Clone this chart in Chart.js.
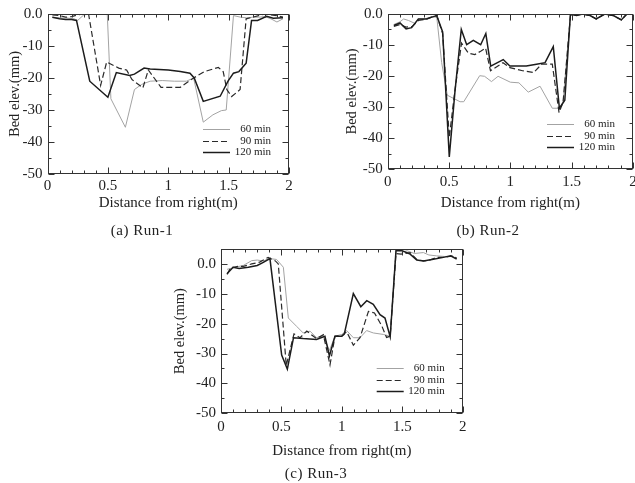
<!DOCTYPE html>
<html><head><meta charset="utf-8">
<script src="https://cdn.jsdelivr.net/npm/chart.js@4.4.1/dist/chart.umd.min.js"></script>
<style>
html,body{margin:0;padding:0;background:#fff;overflow:hidden;width:635px;height:483px;position:relative;}
.pane{position:absolute;}
.cap{position:absolute;font-family:'Liberation Serif','Times New Roman',serif;font-size:15px;letter-spacing:0.5px;color:#222;white-space:nowrap;transform:translate(-50%,-50%);}
</style></head><body>
<div class="pane" style="left:0;top:0"><canvas id="cA" width="300" height="215"></canvas></div>
<div class="pane" style="left:320px;top:0"><canvas id="cB" width="330" height="215"></canvas></div>
<div class="pane" style="left:170px;top:235px"><canvas id="cC" width="310" height="230"></canvas></div>
<div class="cap" style="left:142px;top:230px">(a) Run-1</div>
<div class="cap" style="left:488px;top:230px">(b) Run-2</div>
<div class="cap" style="left:316px;top:473px">(c) Run-3</div>
<script>
// ---- labels ----
const seriesLabels = ['60 min', '90 min', '120 min'];
const xTitle = 'Distance from right(m)';
const yTitle = 'Bed elev.(mm)';
const panelCaptions = ['(a) Run-1', '(b) Run-2', '(c) Run-3'];
const xTickValues = [0, 0.5, 1, 1.5, 2];
const xTickLabels = ['0', '0.5', '1', '1.5', '2'];
const yTickValues = [0, -10, -20, -30, -40, -50];
const yTickLabels = ['0.0', '-10', '-20', '-30', '-40', '-50'];

// ---- Run-1 ----
const a60X = [0.04, 0.10, 0.17, 0.22, 0.25, 0.30, 0.35, 0.40, 0.45, 0.495, 0.525, 0.645, 0.72, 0.78, 0.85, 0.95, 1.05, 1.15, 1.21, 1.29, 1.37, 1.44, 1.48, 1.54, 1.60, 1.65, 1.70, 1.75, 1.80, 1.85, 1.90, 1.95];
const a60Y = [-1.0, -1.2, -1.3, -1.5, -2.0, -0.3, 0, 0, 0, 0, -26.5, -35.4, -23.6, -22.0, -21.0, -20.8, -21.0, -21.0, -20.0, -33.8, -31.5, -30.2, -30.0, -0.5, -1.0, -1.2, -1.0, -1.0, -0.8, -1.5, -2.5, -1.5];
const a90X = [0.04, 0.10, 0.15, 0.20, 0.25, 0.30, 0.34, 0.44, 0.49, 0.59, 0.655, 0.70, 0.79, 0.835, 0.94, 1.10, 1.21, 1.30, 1.415, 1.455, 1.485, 1.525, 1.595, 1.645, 1.70, 1.75, 1.80, 1.85, 1.90, 1.95];
const a90Y = [-0.3, -0.5, -1.0, -0.8, -0.3, 0, 0, -22.3, -15.0, -16.9, -17.5, -20.5, -23.1, -17.5, -22.9, -22.9, -20.0, -18.0, -16.7, -18.0, -23.6, -25.8, -23.6, -1.5, -1.0, -0.5, 0, -0.3, -0.5, -1.0];
const a120X = [0.04, 0.10, 0.15, 0.20, 0.24, 0.35, 0.50, 0.57, 0.68, 0.72, 0.80, 0.85, 1.00, 1.10, 1.18, 1.215, 1.29, 1.43, 1.495, 1.54, 1.585, 1.645, 1.69, 1.74, 1.815, 1.87, 1.95];
const a120Y = [-1.0, -1.5, -1.7, -1.7, -2.0, -21.0, -26.0, -18.3, -19.2, -18.8, -16.9, -17.2, -17.5, -18.0, -18.5, -20.0, -27.3, -25.7, -21.0, -18.5, -18.0, -15.4, -2.0, -2.0, -0.7, -1.3, -1.2];

// ---- Run-2 ----
const b60X = [0.05, 0.10, 0.13, 0.17, 0.22, 0.25, 0.30, 0.35, 0.40, 0.44, 0.486, 0.59, 0.62, 0.75, 0.79, 0.846, 0.90, 1.00, 1.07, 1.146, 1.242, 1.342, 1.40, 1.43, 1.49, 1.54, 1.59, 1.65, 1.70, 1.77, 1.84, 1.905, 1.95];
const b60Y = [-3.4, -2.5, -1.6, -2.1, -3.0, -1.6, -1.6, -1.0, -1.0, -15.7, -26.2, -28.3, -28.3, -19.9, -20.1, -21.8, -20.1, -22.0, -22.2, -25.2, -23.3, -30.4, -30.4, -28.4, -0.5, -0.5, 0, -0.5, -1.6, 0, -0.5, -1.9, 0];
const b90X = [0.05, 0.10, 0.15, 0.20, 0.25, 0.32, 0.36, 0.40, 0.448, 0.502, 0.548, 0.602, 0.657, 0.71, 0.758, 0.798, 0.838, 0.94, 0.996, 1.10, 1.19, 1.255, 1.342, 1.397, 1.43, 1.49, 1.54, 1.59, 1.65, 1.70, 1.77, 1.84, 1.905, 1.95];
const b90Y = [-4.0, -3.4, -4.2, -4.0, -2.1, -1.6, -1.0, -0.5, -6.3, -39.8, -24.6, -9.4, -12.6, -13.1, -12.0, -11.0, -18.3, -15.7, -17.3, -18.3, -18.9, -16.2, -16.2, -31.8, -28.4, -0.5, -0.3, 0, -0.5, -1.6, 0, -0.5, -1.9, 0];
const b120X = [0.05, 0.10, 0.15, 0.195, 0.25, 0.317, 0.358, 0.40, 0.448, 0.502, 0.548, 0.60, 0.644, 0.698, 0.758, 0.80, 0.84, 0.942, 0.996, 1.13, 1.213, 1.283, 1.35, 1.40, 1.444, 1.49, 1.54, 1.59, 1.65, 1.70, 1.77, 1.84, 1.905, 1.95];
const b120Y = [-3.7, -2.9, -4.8, -4.4, -1.6, -1.6, -1.0, -0.5, -5.8, -46.1, -25.2, -5.0, -9.9, -8.5, -9.9, -6.3, -16.8, -14.7, -16.8, -16.8, -16.2, -15.7, -10.5, -30.4, -27.8, 0, -0.5, 0, -0.5, -1.6, 0, -0.5, -1.9, 0];

// ---- Run-3 ----
const c60X = [0.05, 0.12, 0.185, 0.254, 0.30, 0.35, 0.40, 0.46, 0.516, 0.557, 0.626, 0.68, 0.737, 0.79, 0.847, 0.897, 0.943, 1.00, 1.04, 1.095, 1.15, 1.205, 1.26, 1.343, 1.40, 1.448, 1.50, 1.54, 1.60, 1.675, 1.72, 1.785, 1.85, 1.92, 1.95];
const c60Y = [-1.8, -1.1, -0.5, 1.1, 1.3, 1.0, 1.8, 1.5, -1.1, -18.1, -20.9, -23.1, -22.5, -24.7, -24.0, -29.0, -24.2, -23.6, -22.3, -24.7, -24.7, -22.3, -23.1, -23.6, -24.2, 4.4, 4.0, 4.4, 3.5, 3.8, 3.0, 2.7, 2.5, 2.5, 1.8];
const c90X = [0.05, 0.08, 0.14, 0.185, 0.254, 0.32, 0.39, 0.45, 0.474, 0.54, 0.604, 0.654, 0.71, 0.79, 0.847, 0.902, 0.943, 1.00, 1.04, 1.095, 1.15, 1.22, 1.27, 1.33, 1.37, 1.40, 1.448, 1.49, 1.565, 1.62, 1.675, 1.72, 1.785, 1.85, 1.92, 1.95];
const c90Y = [-3.5, -1.3, -0.8, -0.8, 0.0, 0.6, 2.2, 1.0, 0.0, -34.0, -23.4, -24.7, -22.5, -25.0, -23.7, -33.8, -24.2, -24.0, -22.7, -27.2, -24.7, -15.9, -16.4, -20.7, -24.6, -24.2, 3.5, 3.3, 3.8, 1.5, 1.0, 1.2, 2.2, 2.2, 2.7, 2.0];
const c120X = [0.05, 0.10, 0.15, 0.226, 0.30, 0.35, 0.405, 0.502, 0.549, 0.60, 0.68, 0.79, 0.86, 0.897, 0.943, 1.00, 1.02, 1.095, 1.157, 1.206, 1.26, 1.316, 1.357, 1.40, 1.448, 1.49, 1.565, 1.62, 1.675, 1.757, 1.84, 1.90, 1.95];
const c120Y = [-3.3, -1.1, -1.5, -1.1, -0.5, 0.5, 1.8, -30.5, -35.2, -24.7, -25.0, -25.3, -24.2, -30.8, -24.2, -24.2, -23.5, -9.9, -14.3, -12.3, -13.5, -17.0, -18.1, -24.4, 4.4, 4.6, 3.3, 1.3, 1.0, 1.6, 2.2, 2.7, 1.6];

// ---- styles ----
const FONT = "'Liberation Serif','Times New Roman',serif";
const INK = '#222';
const lineStyles = [
  {color: '#a3a3a3', width: 1.0, dash: []},
  {color: '#2a2a2a', width: 1.2, dash: [6, 3]},
  {color: '#1c1c1c', width: 1.5, dash: []}
];

const frameTicks = {
  id: 'frameTicks',
  afterDatasetsDraw(chart) {
    const {ctx, chartArea: a, scales: {x, y}} = chart;
    ctx.save();
    ctx.strokeStyle = '#333';
    ctx.lineWidth = 1;
    const L = Math.round(a.left) + 0.5, R = Math.round(a.right) - 0.5;
    const T = Math.round(a.top) + 0.5, B = Math.round(a.bottom) - 0.5;
    ctx.strokeRect(L, T, R - L, B - T);
    ctx.beginPath();
    for (let i = 0; i <= 20; i++) {
      const px = Math.round(x.getPixelForValue(i / 10)) + 0.5;
      const len = i % 5 === 0 ? 6 : 3;
      ctx.moveTo(px, B); ctx.lineTo(px, B - len);
      ctx.moveTo(px, T); ctx.lineTo(px, T + len);
    }
    for (let v = Math.ceil(y.min / 5) * 5; v <= y.max; v += 5) {
      const py = Math.round(y.getPixelForValue(v)) + 0.5;
      const len = Math.abs(v % 10) === 0 ? 6 : 3;
      ctx.moveTo(L, py); ctx.lineTo(L + len, py);
      ctx.moveTo(R, py); ctx.lineTo(R - len, py);
    }
    ctx.stroke();
    ctx.restore();
  }
};

const innerLegend = {
  id: 'innerLegend',
  afterDraw(chart, args, opts) {
    const {ctx, chartArea: a} = chart;
    chart.data.datasets.forEach((ds, i) => {
      const yy = Math.round(a.bottom - opts.rows[i]) + 0.5;
      ctx.save();
      ctx.strokeStyle = ds.borderColor;
      ctx.lineWidth = ds.borderWidth;
      ctx.setLineDash(ds.borderDash || []);
      ctx.beginPath();
      ctx.moveTo(a.right - opts.lineL, yy);
      ctx.lineTo(a.right - opts.lineR, yy);
      ctx.stroke();
      ctx.setLineDash([]);
      ctx.fillStyle = INK;
      ctx.font = "11px " + FONT;
      ctx.textAlign = 'right';
      ctx.textBaseline = 'middle';
      ctx.fillText(ds.label, a.right - opts.textR, yy);
      ctx.restore();
    });
  }
};

function makePanel(id, xs, ys, geo) {
  const datasets = xs.map((xArr, i) => ({
    label: seriesLabels[i],
    data: xArr.map((xv, k) => ({x: xv, y: ys[i][k]})),
    borderColor: lineStyles[i].color,
    borderWidth: lineStyles[i].width,
    borderDash: lineStyles[i].dash,
    pointRadius: 0,
    tension: 0,
    fill: false,
    order: 3 - i
  }));
  return new Chart(document.getElementById(id), {
    type: 'line',
    data: {datasets},
    options: {
      responsive: false,
      animation: false,
      devicePixelRatio: 1,
      layout: {padding: {left: 0, top: geo.top, right: geo.right, bottom: 0}},
      plugins: {
        legend: {display: false},
        tooltip: {enabled: false},
        innerLegend: {rows: [45, 33, 22], lineL: 86, lineR: 59, textR: 18}
      },
      scales: {
        x: {
          type: 'linear', min: 0, max: 2,
          grid: {display: false, drawTicks: false},
          border: {display: false},
          afterBuildTicks: sc => { sc.ticks = xTickValues.map(v => ({value: v})); },
          afterFit: sc => { sc.height = geo.xH; },
          ticks: {
            padding: geo.xPad, color: INK, maxRotation: 0, autoSkip: false,
            font: {family: FONT, size: 15},
            callback: v => { const k = xTickValues.indexOf(v); return k >= 0 ? xTickLabels[k] : ''; }
          },
          title: {display: true, text: xTitle, color: INK, font: {family: FONT, size: 15},
                  padding: {top: 0, bottom: geo.xTitlePad}}
        },
        y: {
          type: 'linear', min: -50, max: geo.yMax,
          grid: {display: false, drawTicks: false},
          border: {display: false},
          afterBuildTicks: sc => { sc.ticks = yTickValues.map(v => ({value: v})); },
          afterFit: sc => { sc.width = geo.yW; },
          ticks: {
            padding: 5, color: INK, autoSkip: false,
            font: {family: FONT, size: 15},
            callback: v => { const k = yTickValues.indexOf(v); return k >= 0 ? yTickLabels[k] : ''; }
          },
          title: {display: true, text: yTitle, color: INK, font: {family: FONT, size: 14.5},
                  padding: {top: geo.yTitlePad, bottom: 0}}
        }
      }
    },
    plugins: [frameTicks, innerLegend]
  });
}

makePanel('cA', [a60X, a90X, a120X], [a60Y, a90Y, a120Y],
  {top: 11.7, right: 11, yW: 47.5, xH: 41, xPad: 2.8, xTitlePad: 3, yTitlePad: 6.3, yMax: 0});
makePanel('cB', [b60X, b90X, b120X], [b60Y, b90Y, b120Y],
  {top: 10, right: 17, yW: 67.7, xH: 46, xPad: 3.8, xTitlePad: 3, yTitlePad: 23.3, yMax: 0});
makePanel('cC', [c60X, c90X, c120X], [c60Y, c90Y, c120Y],
  {top: 11.5, right: 17.3, yW: 51, xH: 51.7, xPad: 4.5, xTitlePad: 5, yTitlePad: 1.3, yMax: 5});
</script>
</body></html>
